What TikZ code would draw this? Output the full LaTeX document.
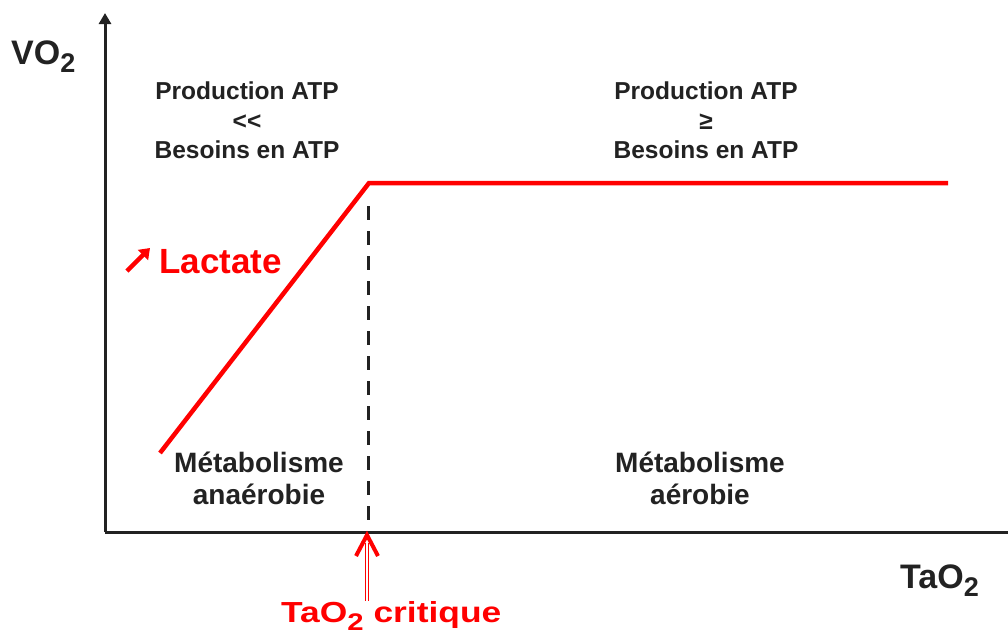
\documentclass[tikz,border=0pt]{standalone}
\usepackage{fontspec}
\setmainfont{Liberation Sans}
\usetikzlibrary{arrows.meta,calc}
\definecolor{ink}{HTML}{222222}
\definecolor{hot}{HTML}{FF0000}
\newcommand{\lowdigit}[3]{\raisebox{-#2}{\fontsize{#1}{#1}\selectfont #3}}
\begin{document}
\begin{tikzpicture}[x=1pt,y=-1pt,
  axis/.style={ink, line width=3pt},
  lbl/.style={ink, font=\bfseries\fontsize{24.5}{29.5}\selectfont, align=center, inner sep=0pt},
  met/.style={ink, font=\bfseries\fontsize{28}{31.5}\selectfont, align=center, inner sep=0pt},
  axlbl/.style={ink, font=\bfseries\fontsize{34}{34}\selectfont, inner sep=0pt},
  curve/.style={hot, line width=4.5pt, line join=miter},
  guide/.style={ink, line width=3pt, dash pattern=on 14pt off 11pt},
  shaft/.style={hot, line width=1.2pt, double=white, double distance=2pt},
  head/.style={hot, line width=4pt, line join=miter},
  uparrow/.style={hot, line width=4.5pt, -{Triangle[length=10pt,width=14pt]}}
]
\useasboundingbox (0,0) rectangle (1008,635);
% axes
\coordinate (O) at (105,532);
\coordinate (ytop) at (105,13);
\coordinate (xend) at (1008,532);
\draw[axis, -{Triangle[length=11pt,width=12pt]}] (O) -- (ytop);
\draw[axis] (O) -- (xend);
\node[axlbl, anchor=base west] (vo) at (11,64) {VO\lowdigit{27}{8pt}{2}};
\node[axlbl, anchor=base west] (tao) at (900,588) {TaO\lowdigit{27}{8pt}{2}};
% curve
\coordinate (knee) at (369,183);
\draw[curve] (160,453) -- (knee) -- (948,183);
\draw[guide] (368,206) -- (368,530);
% labels
\node[lbl, anchor=north] (pl) at (247,82) {Production ATP\\<\kern0pt<\\Besoins en ATP};
\node[lbl, anchor=north] (pr) at (706,82) {Production ATP\\≥\\Besoins en ATP};
\node[met, anchor=north] (ml) at (259,452) {Métabolisme\\anaérobie};
\node[met, anchor=north] (mr) at (700,452) {Métabolisme\\aérobie};
\node[hot, anchor=base west, inner sep=0pt, font=\bfseries\fontsize{35}{35}\selectfont] (lac) at (159,273) {Lactate};
\coordinate (lacfrom) at (127,271);
\coordinate (lacto) at (150,248);
\draw[uparrow] (lacfrom) -- (lacto);
% critical
\node[hot, anchor=base west, inner sep=0pt, font=\bfseries\fontsize{29}{29}\selectfont] (crit) at (281,622)
  {\scalebox{1.22}[1]{TaO\lowdigit{24}{8pt}{2} critique}};
\coordinate (tip) at (367,535);
\draw[shaft] (tip |- crit.north) -- ($(tip)+(0,8)$);
\draw[head] ($(tip)+(-11,21)$) -- (tip) -- ($(tip)+(11,21)$);
\end{tikzpicture}
\end{document}
